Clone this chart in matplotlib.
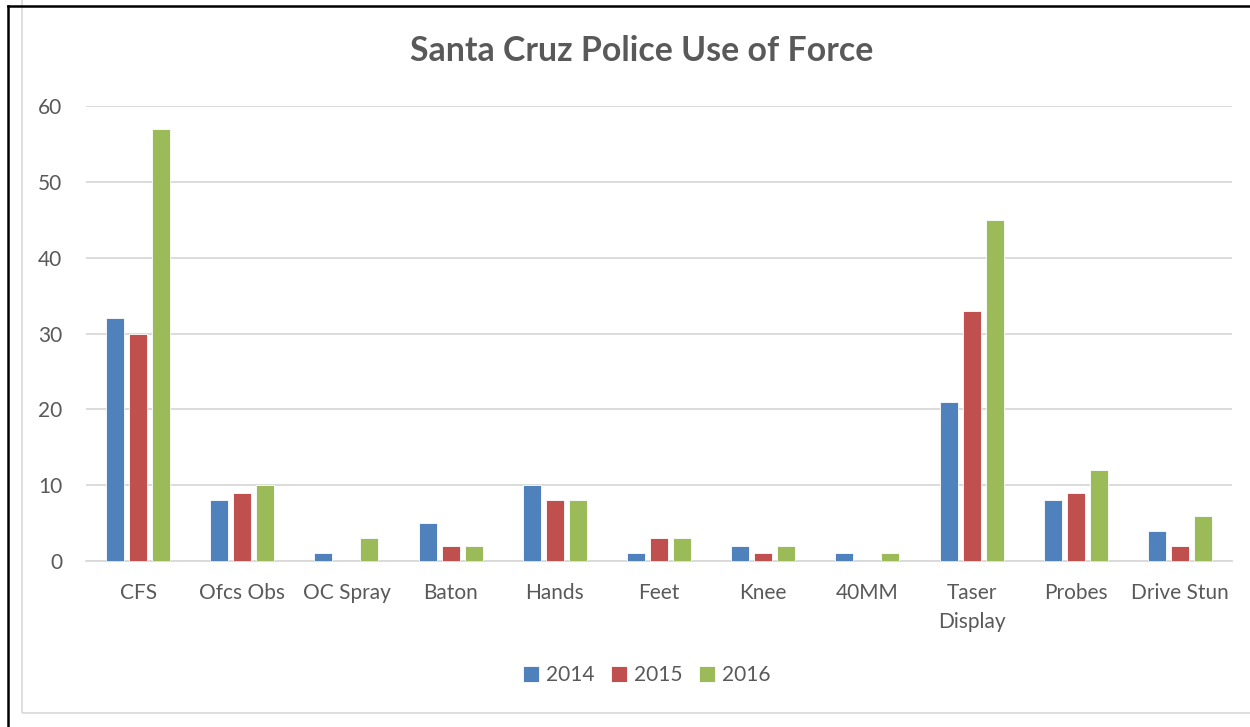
import numpy as np
import matplotlib.pyplot as plt
from matplotlib.lines import Line2D
from matplotlib.patches import Rectangle

# Use of force counts by type and year
categories = ['CFS', 'Ofcs Obs', 'OC Spray', 'Baton', 'Hands', 'Feet', 'Knee',
              '40MM', 'Taser\nDisplay', 'Probes', 'Drive Stun']
years = ['2014', '2015', '2016']
vals_2014 = [32, 8, 1, 5, 10, 1, 2, 1, 21, 8, 4]
vals_2015 = [30, 9, 0, 2, 8, 3, 1, 0, 33, 9, 2]
vals_2016 = [57, 10, 3, 2, 8, 3, 2, 1, 45, 12, 6]
y_ticks = [0, 10, 20, 30, 40, 50, 60]

colors = ['#4F81BD', '#C0504D', '#9BBB59']
text_color = '#595959'
grid_color = '#D9D9D9'

plt.rcParams['font.family'] = ['Lato', 'DejaVu Sans']

fig = plt.figure(figsize=(12.5, 7.27), dpi=100, facecolor='white')
ax = fig.add_axes([0.0688, 0.2283, 0.9168, 0.6259])

x = np.arange(len(categories))
width = 0.173
pitch = 0.221
for i, (vals, col, lab) in enumerate(zip([vals_2014, vals_2015, vals_2016], colors, years)):
    ax.bar(x + (i - 1) * pitch, vals, width, color=col, label=lab,
           edgecolor='white', linewidth=0.6, zorder=3)

ax.set_xlim(-0.5, len(categories) - 0.5)
ax.set_ylim(0, 60)
ax.set_yticks(y_ticks)
ax.set_xticks(x)
ax.set_xticklabels(categories, linespacing=1.55)
ax.yaxis.grid(True, color=grid_color, linewidth=1.3, zorder=0)
for s in ['left', 'right', 'top']:
    ax.spines[s].set_visible(False)
ax.spines['bottom'].set_color(grid_color)
ax.spines['bottom'].set_linewidth(1.3)
ax.tick_params(axis='both', length=0, labelsize=15, labelcolor=text_color)
ax.tick_params(axis='y', pad=17)
ax.tick_params(axis='x', pad=16)

fig.text(0.513, 0.930, 'Santa Cruz Police Use of Force', ha='center', va='center',
         fontsize=24.4, fontweight='bold', color=text_color)

ax.legend(loc='center', bbox_to_anchor=(0.5176, 0.071), bbox_transform=fig.transFigure,
          ncol=3, frameon=False, fontsize=15, labelcolor=text_color,
          handlelength=0.75, handleheight=0.75, handletextpad=0.35, columnspacing=0.8)

# chart frame and page edges
fig.add_artist(Rectangle((22 / 1250, 1 - 713 / 727), 1.5, 1.5, transform=fig.transFigure,
                         fill=False, edgecolor=grid_color, linewidth=1.2))
fig.add_artist(Line2D([8 / 1250, 1], [1 - 6 / 727, 1 - 6 / 727], transform=fig.transFigure,
                      color='black', linewidth=1.8))
fig.add_artist(Line2D([8 / 1250, 8 / 1250], [0, 1 - 6 / 727], transform=fig.transFigure,
                      color='black', linewidth=1.8))

fig.savefig('out.png', dpi=100, facecolor='white')
